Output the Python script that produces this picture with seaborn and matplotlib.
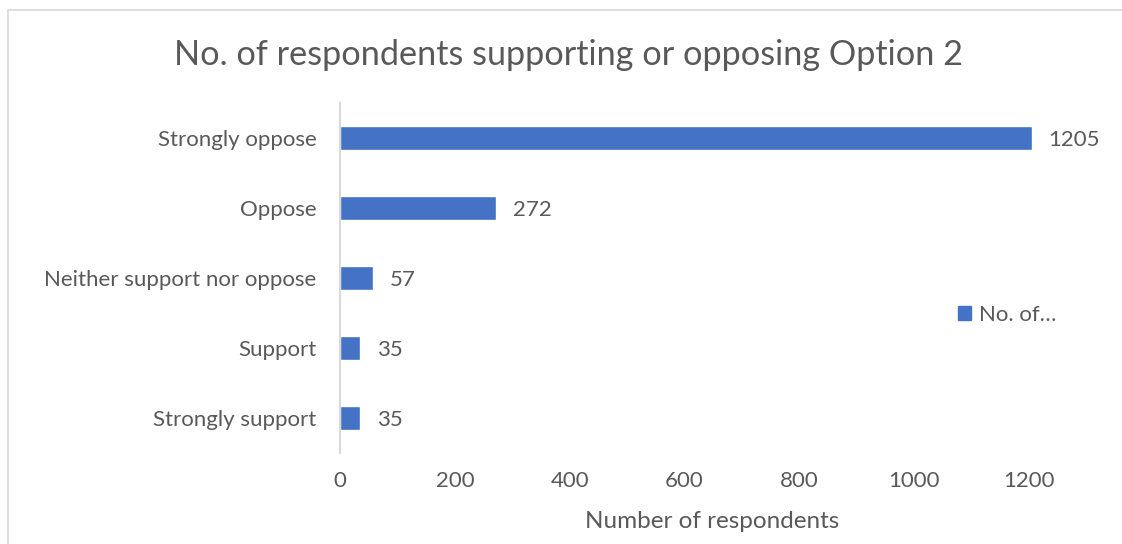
import matplotlib
matplotlib.use("Agg")
import matplotlib.pyplot as plt
import seaborn as sns
import pandas as pd
from matplotlib.lines import Line2D
from matplotlib.patches import Patch

categories = ["Strongly oppose", "Oppose", "Neither support nor oppose", "Support", "Strongly support"]
values = [1205, 272, 57, 35, 35]
x_ticks = [0, 200, 400, 600, 800, 1000, 1200]
title = "No. of respondents supporting or opposing Option 2"
x_label = "Number of respondents"
legend_label = "No. of…"

sns.set_theme(style="white")
plt.rcParams['font.family'] = ['Lato', 'DejaVu Sans']

BLUE = "#4472C4"
TXT = "#595959"

df = pd.DataFrame({"category": categories, "value": values})

fig = plt.figure(figsize=(11.22, 5.44), dpi=100)
ax = fig.add_axes([340/1122, 91/544, (1036-340)/1122, 350/544])
sns.barplot(data=df, y="category", x="value", color=BLUE, width=0.35, ax=ax, saturation=1)

ax.set_xlim(0, 1212)
ax.set_ylim(4.5, -0.5)
ax.set_xticks(x_ticks)
ax.set_xticklabels([str(t) for t in x_ticks], fontsize=16, color=TXT)
ax.tick_params(axis='y', labelsize=16, labelcolor=TXT, length=0, pad=17)
ax.tick_params(axis='x', length=0, pad=13)
ax.set_ylabel("")
ax.set_xlabel(x_label, fontsize=17.5, color=TXT)
ax.xaxis.set_label_coords((712 - 340) / 696, -(522 - 453) / 350, transform=ax.transAxes)
ax.xaxis.label.set_va("center")
for s in ["top", "right", "bottom"]:
    ax.spines[s].set_visible(False)
ax.spines["left"].set_color("#D9D9D9")
ax.spines["left"].set_linewidth(1.5)

for i, v in enumerate(values):
    ax.annotate(str(v), xy=(v, i), xytext=(12, 0), textcoords="offset points",
                va="center_baseline", ha="left", fontsize=16, color=TXT)

fig.text(568/1122, 1 - 55/544, title, ha="center", va="center", fontsize=24.7, color=TXT)

handle = Patch(facecolor=BLUE, edgecolor=BLUE)
leg = fig.legend([handle], [legend_label], loc="center left", bbox_to_anchor=(938/1122, 1 - 315/544),
                 frameon=False, fontsize=16, handlelength=0.6, handleheight=0.6, handletextpad=0.35)
for t in leg.get_texts():
    t.set_color(TXT)

# chart border (top and left visible)
fig.add_artist(Line2D([8/1122, 8/1122], [0, 1 - 10/544], transform=fig.transFigure, color="#D9D9D9", lw=1.2))
fig.add_artist(Line2D([8/1122, 1], [1 - 10/544, 1 - 10/544], transform=fig.transFigure, color="#D9D9D9", lw=1.2))

fig.savefig("out.png", dpi=100)
